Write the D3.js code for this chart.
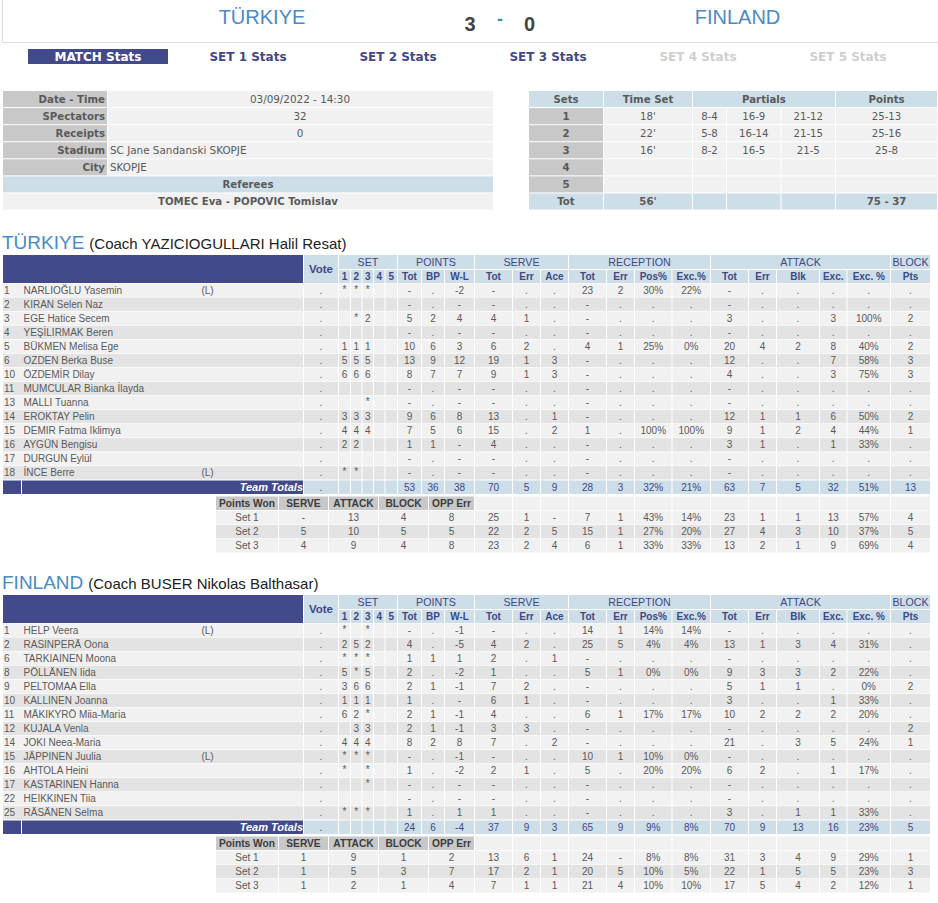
<!DOCTYPE html>
<html>
<head>
<meta charset="utf-8">
<style>
  html, body { margin: 0; padding: 0; background: #fff; }
  svg { display: block; }
  text { font-family: "Liberation Sans", Arial, sans-serif; }
  .top { font-family: "DejaVu Sans", Verdana, sans-serif; }
</style>
<script src="https://cdn.jsdelivr.net/npm/d3@7/dist/d3.min.js"></script>
</head>
<body>
<script>
// match header
var homeTeam = "TÜRKIYE", awayTeam = "FINLAND";
var homeSets = "3", awaySets = "0";
var navLabels = ["MATCH Stats", "SET 1 Stats", "SET 2 Stats", "SET 3 Stats", "SET 4 Stats", "SET 5 Stats"];
var navPlayed = [true, true, true, true, false, false];

// match info
var infoLabels = ["Date - Time", "SPectators", "Receipts", "Stadium", "City"];
var infoValues = ["03/09/2022 - 14:30", "32", "0", "SC Jane Sandanski SKOPJE", "SKOPJE"];
var refereesLabel = "Referees";
var refereesNames = "TOMEC Eva - POPOVIC Tomislav";

// sets table
var setNames = ["1", "2", "3", "4", "5", "Tot"];
var setTimes = ["18'", "22'", "16'", "", "", "56'"];
var setPartial1 = ["8-4", "5-8", "8-2", "", "", ""];
var setPartial2 = ["16-9", "16-14", "16-5", "", "", ""];
var setPartial3 = ["21-12", "21-15", "21-5", "", "", ""];
var setPoints = ["25-13", "25-16", "25-8", "", "", "75 - 37"];

// player table headings
var groupLabels = ["SET", "POINTS", "SERVE", "RECEPTION", "ATTACK", "BLOCK"];
var statLabels = ["1", "2", "3", "4", "5", "Tot", "BP", "W-L", "Tot", "Err", "Ace", "Tot", "Err", "Pos%", "Exc.%", "Tot", "Err", "Blk", "Exc.", "Exc. %", "Pts"];
var wonLabels = ["Points Won", "SERVE", "ATTACK", "BLOCK", "OPP Err"];
var wonRows = ["Set 1", "Set 2", "Set 3"];

// Türkiye
var turCoach = "(Coach YAZICIOGULLARI Halil Resat)";
var turNumbers = ["1", "2", "3", "4", "5", "6", "10", "11", "13", "14", "15", "16", "17", "18"];
var turNames = ["NARLIOĞLU Yasemin", "KIRAN Selen Naz", "EGE Hatice Secem", "YEŞİLIRMAK Beren", "BÜKMEN Melisa Ege", "OZDEN Berka Buse", "ÖZDEMİR Dilay", "MUMCULAR Bianka İlayda", "MALLI Tuanna", "EROKTAY Pelin", "DEMIR Fatma Iklimya", "AYGÜN Bengisu", "DURGUN Eylül", "İNCE Berre"];
var turLibero = ["(L)", "", "", "", "", "", "", "", "", "", "", "", "", "(L)"];
var turStats = [
  ["*", "*", "*", "", "", "-", ".", "-2", "-", ".", ".", "23", "2", "30%", "22%", "-", ".", ".", ".", ".", "."],
  ["", "", "", "", "", "-", ".", "-", "-", ".", ".", "-", ".", ".", ".", "-", ".", ".", ".", ".", "."],
  ["", "*", "2", "", "", "5", "2", "4", "4", "1", ".", "-", ".", ".", ".", "3", ".", ".", "3", "100%", "2"],
  ["", "", "", "", "", "-", ".", "-", "-", ".", ".", "-", ".", ".", ".", "-", ".", ".", ".", ".", "."],
  ["1", "1", "1", "", "", "10", "6", "3", "6", "2", ".", "4", "1", "25%", "0%", "20", "4", "2", "8", "40%", "2"],
  ["5", "5", "5", "", "", "13", "9", "12", "19", "1", "3", "-", ".", ".", ".", "12", ".", ".", "7", "58%", "3"],
  ["6", "6", "6", "", "", "8", "7", "7", "9", "1", "3", "-", ".", ".", ".", "4", ".", ".", "3", "75%", "3"],
  ["", "", "", "", "", "-", ".", "-", "-", ".", ".", "-", ".", ".", ".", "-", ".", ".", ".", ".", "."],
  ["", "", "*", "", "", "-", ".", "-", "-", ".", ".", "-", ".", ".", ".", "-", ".", ".", ".", ".", "."],
  ["3", "3", "3", "", "", "9", "6", "8", "13", ".", "1", "-", ".", ".", ".", "12", "1", "1", "6", "50%", "2"],
  ["4", "4", "4", "", "", "7", "5", "6", "15", ".", "2", "1", ".", "100%", "100%", "9", "1", "2", "4", "44%", "1"],
  ["2", "2", "", "", "", "1", "1", "-", "4", ".", ".", "-", ".", ".", ".", "3", "1", ".", "1", "33%", "."],
  ["", "", "", "", "", "-", ".", "-", "-", ".", ".", "-", ".", ".", ".", "-", ".", ".", ".", ".", "."],
  ["*", "*", "", "", "", "-", ".", "-", "-", ".", ".", "-", ".", ".", ".", "-", ".", ".", ".", ".", "."]
];
var turTotals = ["", "", "", "", "", "53", "36", "38", "70", "5", "9", "28", "3", "32%", "21%", "63", "7", "5", "32", "51%", "13"];
var turWon = [["-", "13", "4", "8"], ["5", "10", "5", "5"], ["4", "9", "4", "8"]];
var turWonStats = [
  ["25", "1", "-", "7", "1", "43%", "14%", "23", "1", "1", "13", "57%", "4"],
  ["22", "2", "5", "15", "1", "27%", "20%", "27", "4", "3", "10", "37%", "5"],
  ["23", "2", "4", "6", "1", "33%", "33%", "13", "2", "1", "9", "69%", "4"]
];

// Finland
var finCoach = "(Coach BUSER Nikolas Balthasar)";
var finNumbers = ["1", "2", "6", "8", "9", "10", "11", "12", "14", "15", "16", "17", "22", "25"];
var finNames = ["HELP Veera", "RASINPERÄ Oona", "TARKIAINEN Moona", "PÖLLÄNEN Iida", "PELTOMAA Ella", "KALLINEN Joanna", "MÄKIKYRÖ Miia-Maria", "KUJALA Venla", "JOKI Neea-Maria", "JÄPPINEN Juulia", "AHTOLA Heini", "KASTARINEN Hanna", "HEIKKINEN Tiia", "RÄSÄNEN Selma"];
var finLibero = ["(L)", "", "", "", "", "", "", "", "", "(L)", "", "", "", ""];
var finStats = [
  ["*", "", "*", "", "", "-", ".", "-1", "-", ".", ".", "14", "1", "14%", "14%", "-", ".", ".", ".", ".", "."],
  ["2", "5", "2", "", "", "4", ".", "-5", "4", "2", ".", "25", "5", "4%", "4%", "13", "1", "3", "4", "31%", "."],
  ["*", "*", "*", "", "", "1", "1", "1", "2", ".", "1", "-", ".", ".", ".", "-", ".", ".", ".", ".", "."],
  ["5", "*", "5", "", "", "2", ".", "-2", "1", ".", ".", "5", "1", "0%", "0%", "9", "3", "3", "2", "22%", "."],
  ["3", "6", "6", "", "", "2", "1", "-1", "7", "2", ".", "-", ".", ".", ".", "5", "1", "1", ".", "0%", "2"],
  ["1", "1", "1", "", "", "1", ".", "-", "6", "1", ".", "-", ".", ".", ".", "3", ".", ".", "1", "33%", "."],
  ["6", "2", "*", "", "", "2", "1", "-1", "4", ".", ".", "6", "1", "17%", "17%", "10", "2", "2", "2", "20%", "."],
  ["", "3", "3", "", "", "2", "1", "-1", "3", "3", ".", "-", ".", ".", ".", "-", ".", ".", ".", ".", "2"],
  ["4", "4", "4", "", "", "8", "2", "8", "7", ".", "2", "-", ".", ".", ".", "21", ".", "3", "5", "24%", "1"],
  ["*", "*", "*", "", "", "-", ".", "-1", "-", ".", ".", "10", "1", "10%", "0%", "-", ".", ".", ".", ".", "."],
  ["*", "", "*", "", "", "1", ".", "-2", "2", "1", ".", "5", ".", "20%", "20%", "6", "2", ".", "1", "17%", "."],
  ["", "", "*", "", "", "-", ".", "-", "-", ".", ".", "-", ".", ".", ".", "-", ".", ".", ".", ".", "."],
  ["", "", "", "", "", "-", ".", "-", "-", ".", ".", "-", ".", ".", ".", "-", ".", ".", ".", ".", "."],
  ["*", "*", "*", "", "", "1", ".", "1", "1", ".", ".", "-", ".", ".", ".", "3", ".", "1", "1", "33%", "."]
];
var finTotals = ["", "", "", "", "", "24", "6", "-4", "37", "9", "3", "65", "9", "9%", "8%", "70", "9", "13", "16", "23%", "5"];
var finWon = [["1", "9", "1", "2"], ["1", "5", "3", "7"], ["1", "2", "1", "4"]];
var finWonStats = [
  ["13", "6", "1", "24", "-", "8%", "8%", "31", "3", "4", "9", "29%", "1"],
  ["17", "2", "1", "20", "5", "10%", "5%", "22", "1", "5", "5", "23%", "3"],
  ["7", "1", "1", "21", "4", "10%", "10%", "17", "5", "4", "2", "12%", "1"]
];

// colours
var navy = "#434a8b", pale = "#cddee8", gray = "#c8c8c8", light = "#f1f1f1", mid = "#e3e3e3";
var inkBlue = "#4a8ac4", inkText = "#5a5a5a", inkHead = "#3f4886";

// column edges of the player tables, left side of each stat column + right end
var statEdges = [339, 351, 362.5, 374, 385.5, 398, 422, 445, 475, 513, 541, 569, 607, 635, 672.5, 711, 749, 777, 820, 847.5, 891, 931];
var groupSpans = [[0, 5], [5, 8], [8, 11], [11, 15], [15, 20], [20, 21]];
var wonEdges = [216, 279, 329, 379, 429, 475];

var svg = d3.select("body").append("svg").attr("width", 938).attr("height", 903);

// scales for the match tables
var infoY = d3.scaleBand().domain(d3.range(7)).range([91, 209.5]).paddingInner(0.06);
var navX = d3.scaleBand().domain(navLabels).range([23, 923]);
var setColX = d3.scaleOrdinal().domain(["set", "time", "p1", "p2", "p3", "pts", "end"]).range([529, 604, 693, 727, 781.5, 836, 938]);

function cell(g, x0, x1, y, h, fill) {
  g.append("rect").attr("x", x0).attr("y", y).attr("width", x1 - x0 - 1).attr("height", h).attr("fill", fill);
}

function label(g, x, y, str, opt) {
  opt = opt || {};
  return g.append("text").attr("x", x).attr("y", y).attr("dy", "0.35em")
    .attr("text-anchor", opt.anchor || "middle")
    .attr("font-size", opt.size || 10)
    .attr("font-weight", opt.weight || "normal")
    .attr("font-style", opt.style || "normal")
    .attr("fill", opt.fill || inkText)
    .attr("class", opt.cls || null)
    .text(str);
}

// title band
svg.append("path").attr("d", "M2.5,0V42.5H938").attr("fill", "none").attr("stroke", "#d9dfe5").attr("stroke-width", 1);
label(svg, 262, 17, homeTeam, {size: 20, fill: inkBlue});
label(svg, 737.5, 17, awayTeam, {size: 20, fill: inkBlue});
label(svg, 470, 24, homeSets, {size: 20, weight: "bold", fill: "#444"});
label(svg, 500, 19, "-", {size: 18, weight: "bold", fill: inkBlue});
label(svg, 529.5, 24, awaySets, {size: 20, weight: "bold", fill: "#444"});

// nav row
navLabels.forEach(function(d, i) {
  var cx = navX(d) + navX.bandwidth() / 2;
  if (i === 0) svg.append("rect").attr("x", 28).attr("y", 49).attr("width", 140).attr("height", 15).attr("fill", navy);
  label(svg, cx, 56.5, d, {size: 12, weight: "bold", cls: "top", fill: i === 0 ? "#fff" : (navPlayed[i] ? inkHead : "#cfcfcf")});
});

// match info table
infoLabels.forEach(function(d, i) {
  var y = infoY(i), h = infoY.bandwidth(), my = y + h / 2;
  cell(svg, 3, 108, y, h, gray);
  cell(svg, 108, 494, y, h, light);
  label(svg, 105, my, d, {size: 10.2, weight: "bold", anchor: "end", cls: "top"});
  if (i < 3) label(svg, 300, my, infoValues[i], {size: 10.4, cls: "top"});
  else label(svg, 110, my, infoValues[i], {size: 10.4, anchor: "start", cls: "top"});
});
cell(svg, 3, 494, infoY(5), infoY.bandwidth(), pale);
label(svg, 248, infoY(5) + infoY.bandwidth() / 2, refereesLabel, {size: 10.2, weight: "bold", cls: "top"});
cell(svg, 3, 494, infoY(6), infoY.bandwidth(), light);
label(svg, 248, infoY(6) + infoY.bandwidth() / 2, refereesNames, {size: 10.2, weight: "bold", cls: "top"});

// sets table: heading row plus one row per set
var setHead = ["Sets", "Time Set", "Partials", "Points"];
[["set", "time"], ["time", "p1"], ["p1", "pts"], ["pts", "end"]].forEach(function(c, i) {
  var x0 = setColX(c[0]), x1 = setColX(c[1]);
  cell(svg, x0, x1, infoY(0), infoY.bandwidth(), pale);
  label(svg, (x0 + x1 - 1) / 2, infoY(0) + infoY.bandwidth() / 2, setHead[i], {size: 10.2, weight: "bold", cls: "top"});
});
setNames.forEach(function(d, i) {
  var y = infoY(i + 1), h = infoY.bandwidth(), my = y + h / 2, last = i === setNames.length - 1;
  var vals = [d, setTimes[i], setPartial1[i], setPartial2[i], setPartial3[i], setPoints[i]];
  var keys = setColX.domain();
  vals.forEach(function(v, j) {
    var x0 = setColX(keys[j]), x1 = setColX(keys[j + 1]);
    cell(svg, x0, x1, y, h, last ? pale : (j === 0 ? gray : light));
    label(svg, (x0 + x1 - 1) / 2, my, v, {size: 10.2, weight: last || j === 0 ? "bold" : "normal", cls: "top"});
  });
});

// one team block, top is the y of the navy heading
function drawTeam(top, team, coach, numbers, names, libero, stats, totals, won, wonStats) {
  var g = svg.append("g").attr("transform", "translate(0," + top + ")");
  var rowY = d3.scaleBand().domain(d3.range(numbers.length)).range([28.5, 224.5]).paddingInner(0.05);
  var wonY = d3.scaleBand().domain(d3.range(4)).range([241.5, 297.5]).paddingInner(0.05);
  var colX = d3.scaleOrdinal().domain(d3.range(statEdges.length)).range(statEdges);
  var wonX = d3.scaleOrdinal().domain(d3.range(wonEdges.length)).range(wonEdges);

  // team name and coach
  var title = g.append("text").attr("x", 2).attr("y", -6);
  title.append("tspan").attr("font-size", 19).attr("fill", inkBlue).text(team);
  title.append("tspan").attr("dx", 5).attr("font-size", 15).attr("fill", "#222").text(coach);

  // heading rows
  g.append("rect").attr("x", 3).attr("width", 300).attr("height", 28).attr("fill", navy);
  cell(g, 304, 339, 0, 28, pale);
  label(g, 321, 14, "Vote", {size: 11.5, weight: "bold", fill: inkHead});
  groupSpans.forEach(function(s, i) {
    var x0 = colX(s[0]), x1 = colX(s[1]);
    cell(g, x0, x1, 0, 14, pale);
    label(g, (x0 + x1 - 1) / 2, 7, groupLabels[i], {size: 10.7, fill: inkHead});
  });
  statLabels.forEach(function(d, i) {
    var x0 = colX(i), x1 = colX(i + 1);
    cell(g, x0, x1, 15, 13, pale);
    label(g, (x0 + x1 - 1) / 2, 21.5, d, {size: 10, weight: "bold", fill: inkHead});
  });

  // player rows
  numbers.forEach(function(n, r) {
    var y = rowY(r), h = rowY.bandwidth(), my = y + h / 2, fill = r % 2 ? mid : light;
    g.append("rect").attr("x", 3).attr("y", y).attr("width", 300).attr("height", h).attr("fill", fill);
    label(g, 4, my, n, {anchor: "start"});
    label(g, 23.5, my, names[r], {anchor: "start"});
    label(g, 207.5, my, libero[r]);
    cell(g, 304, 339, y, h, fill);
    label(g, 321, my, ".");
    stats[r].forEach(function(v, c) {
      var x0 = colX(c), x1 = colX(c + 1);
      cell(g, x0, x1, y, h, fill);
      label(g, (x0 + x1 - 1) / 2, v === "*" ? my - 1 : my, v);
    });
  });

  // totals row
  var ty = 225.5, th = 13.5;
  g.append("rect").attr("x", 3).attr("y", ty).attr("width", 18).attr("height", th).attr("fill", navy);
  g.append("rect").attr("x", 22).attr("y", ty).attr("width", 281).attr("height", th).attr("fill", navy);
  label(g, 303, ty + th / 2, "Team Totals", {anchor: "end", size: 11, weight: "bold", style: "italic", fill: "#fff"});
  cell(g, 304, 339, ty, th, pale);
  label(g, 321, ty + th / 2, ".", {fill: inkHead});
  totals.forEach(function(v, c) {
    var x0 = colX(c), x1 = colX(c + 1);
    cell(g, x0, x1, ty, th, pale);
    label(g, (x0 + x1 - 1) / 2, ty + th / 2, v, {fill: inkHead});
  });

  // points won table
  wonLabels.forEach(function(d, i) {
    var x0 = wonX(i), x1 = wonX(i + 1);
    cell(g, x0, x1, wonY(0), wonY.bandwidth(), gray);
    label(g, (x0 + x1 - 1) / 2, wonY(0) + wonY.bandwidth() / 2, d, {size: 10.2, weight: "bold", fill: "#3c3c3c"});
  });
  d3.range(8, statEdges.length - 1).forEach(function(c) {
    cell(g, colX(c), colX(c + 1), wonY(0), wonY.bandwidth(), light);
  });
  wonRows.forEach(function(d, r) {
    var y = wonY(r + 1), h = wonY.bandwidth(), my = y + h / 2, fill = r === 1 ? mid : light;
    var first = [d].concat(won[r]);
    first.forEach(function(v, i) {
      var x0 = wonX(i), x1 = wonX(i + 1);
      cell(g, x0, x1, y, h, fill);
      label(g, (x0 + x1 - 1) / 2, my, v);
    });
    wonStats[r].forEach(function(v, i) {
      var x0 = colX(i + 8), x1 = colX(i + 9);
      cell(g, x0, x1, y, h, fill);
      label(g, (x0 + x1 - 1) / 2, my, v);
    });
  });
}

drawTeam(255, homeTeam, turCoach, turNumbers, turNames, turLibero, turStats, turTotals, turWon, turWonStats);
drawTeam(595, awayTeam, finCoach, finNumbers, finNames, finLibero, finStats, finTotals, finWon, finWonStats);
</script>
</body>
</html>
